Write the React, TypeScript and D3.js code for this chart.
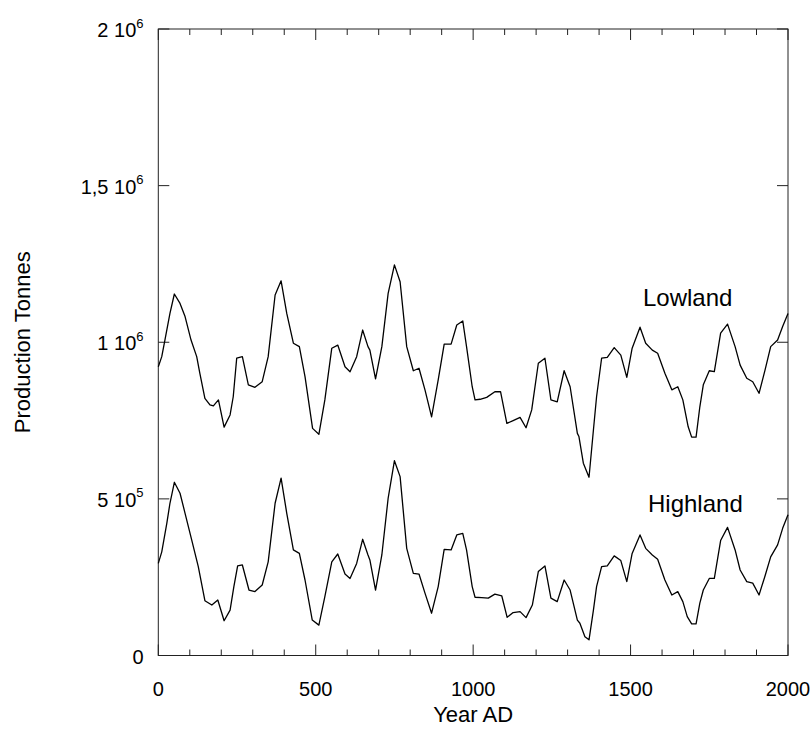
import React from "react";
import * as d3 from "d3";

// Years of the digitised vertices (Year AD)
const lowYears = [0, 11, 21, 37, 51, 69, 85, 104, 122, 132, 148, 164, 175, 191, 209, 228, 238, 249, 267, 286, 307, 330, 349, 371, 390, 408, 429, 448, 466, 490, 510, 529, 551, 570, 593, 609, 630, 649, 666, 672, 690, 710, 730, 750, 768, 789, 810, 828, 847, 868, 889, 908, 930, 948, 967, 979, 997, 1006, 1022, 1043, 1069, 1087, 1107, 1127, 1149, 1168, 1186, 1207, 1228, 1247, 1267, 1289, 1308, 1331, 1336, 1350, 1368, 1382, 1392, 1408, 1426, 1448, 1469, 1488, 1505, 1530, 1548, 1569, 1586, 1609, 1631, 1650, 1666, 1683, 1694, 1708, 1720, 1731, 1750, 1766, 1786, 1808, 1832, 1848, 1869, 1888, 1908, 1927, 1945, 1967, 1983, 2000];
// Lowland production (thousand tonnes)
const lowValues = [922, 954, 1007, 1092, 1154, 1124, 1082, 1007, 954, 901, 821, 800, 797, 816, 729, 768, 826, 949, 954, 864, 856, 874, 954, 1151, 1196, 1092, 997, 986, 890, 725, 706, 816, 981, 991, 922, 906, 954, 1039, 986, 975, 883, 986, 1156, 1247, 1193, 986, 909, 917, 848, 762, 880, 994, 994, 1055, 1068, 986, 858, 816, 818, 824, 842, 842, 741, 750, 760, 727, 784, 933, 949, 816, 810, 909, 858, 709, 699, 614, 569, 720, 826, 949, 952, 983, 959, 888, 981, 1048, 997, 975, 965, 901, 848, 858, 816, 730, 697, 697, 794, 864, 909, 906, 1029, 1058, 986, 927, 885, 874, 837, 911, 986, 1007, 1050, 1092];

const highYears = [0, 11, 27, 37, 51, 69, 85, 106, 127, 148, 170, 189, 209, 228, 240, 252, 267, 288, 307, 330, 349, 371, 390, 408, 429, 448, 466, 489, 510, 529, 551, 570, 593, 609, 630, 649, 666, 672, 690, 710, 730, 750, 768, 789, 810, 828, 847, 868, 889, 908, 930, 948, 967, 979, 997, 1006, 1027, 1048, 1069, 1091, 1108, 1127, 1149, 1168, 1188, 1207, 1228, 1247, 1267, 1289, 1308, 1331, 1339, 1355, 1368, 1382, 1392, 1408, 1426, 1448, 1469, 1488, 1505, 1530, 1548, 1569, 1586, 1609, 1631, 1650, 1666, 1680, 1694, 1708, 1720, 1731, 1750, 1766, 1786, 1808, 1832, 1848, 1869, 1888, 1908, 1927, 1945, 1967, 1983, 2000];
// Highland production (thousand tonnes)
const highValues = [294, 331, 422, 486, 553, 518, 454, 369, 284, 175, 161, 177, 111, 145, 220, 286, 289, 209, 204, 225, 299, 486, 566, 454, 337, 326, 241, 113, 97, 188, 299, 324, 260, 246, 294, 371, 321, 305, 209, 321, 502, 622, 571, 342, 262, 260, 199, 135, 220, 339, 337, 385, 390, 337, 220, 186, 185, 183, 196, 190, 122, 137, 140, 121, 161, 268, 286, 183, 172, 241, 209, 113, 103, 60, 50, 145, 220, 284, 286, 318, 303, 236, 326, 385, 342, 321, 307, 241, 193, 204, 172, 124, 101, 101, 167, 209, 246, 246, 367, 409, 337, 273, 236, 231, 193, 254, 315, 353, 406, 449];

const xTicksMajor = [0, 500, 1000, 1500, 2000];
const xTickLabels = ["0", "500", "1000", "1500", "2000"];
const yTicksMajor = [0, 500000, 1000000, 1500000, 2000000];
const yTickMantissa = ["0", "5", "1", "1,5", "2"];
const yTickExponent = ["", "5", "6", "6", "6"];

const seriesNames = ["Lowland", "Highland"];

export default function App() {
  const W = 812, H = 735;
  const x = d3.scaleLinear().domain([0, 2000]).range([158.3, 788]);
  const y = d3.scaleLinear().domain([0, 2000000]).range([655.5, 29]);
  const line = d3
    .line<[number, number]>()
    .x((d) => x(d[0]))
    .y((d) => y(d[1]));

  const low: [number, number][] = lowYears.map((yr, i) => [yr, lowValues[i] * 1000]);
  const high: [number, number][] = highYears.map((yr, i) => [yr, highValues[i] * 1000]);

  const minorX = d3.range(0, 2001, 100).filter((v) => v % 500 !== 0);
  const font = "'Liberation Sans', Arial, Helvetica, sans-serif";
  const axisColor = "#222";
  const [x0, x1] = x.range();
  const [yb, yt] = y.range();

  return (
    <svg
      width={W}
      height={H}
      style={{ position: "absolute", left: 0, top: 0, background: "#fff" }}
      fontFamily={font}
    >
      <rect x={0} y={0} width={W} height={H} fill="#fff" />
      {/* frame */}
      <rect x={x0} y={yt} width={x1 - x0} height={yb - yt} fill="none" stroke={axisColor} strokeWidth={1} />
      {/* x ticks bottom & top */}
      {xTicksMajor.map((v) => (
        <g key={"xm" + v}>
          <line x1={x(v)} x2={x(v)} y1={yb} y2={yb - 11} stroke={axisColor} />
          <line x1={x(v)} x2={x(v)} y1={yt} y2={yt + 11} stroke={axisColor} />
        </g>
      ))}
      {minorX.map((v) => (
        <g key={"xn" + v}>
          <line x1={x(v)} x2={x(v)} y1={yb} y2={yb - 6} stroke={axisColor} />
          <line x1={x(v)} x2={x(v)} y1={yt} y2={yt + 6} stroke={axisColor} />
        </g>
      ))}
      {/* y ticks left & right */}
      {yTicksMajor.map((v) => (
        <g key={"ym" + v}>
          <line x1={x0} x2={x0 + 11} y1={y(v)} y2={y(v)} stroke={axisColor} />
          <line x1={x1} x2={x1 - 11} y1={y(v)} y2={y(v)} stroke={axisColor} />
        </g>
      ))}
      {/* x tick labels */}
      {xTicksMajor.map((v, i) => (
        <text key={"xl" + v} x={x(v)} y={yb + 40} textAnchor="middle" fontSize={20} fill="#000">
          {xTickLabels[i]}
        </text>
      ))}
      {/* y tick labels */}
      {yTicksMajor.map((v, i) => (
        <text key={"yl" + v} x={143.5} y={y(v) + 8} textAnchor="end" fontSize={20} fill="#000">
          {yTickExponent[i] === "" ? (
            yTickMantissa[i]
          ) : (
            <>
              <tspan>{yTickMantissa[i] + " 10"}</tspan>
              <tspan fontSize={13} dy={-9.5}>{yTickExponent[i]}</tspan>
            </>
          )}
        </text>
      ))}
      {/* axis titles */}
      <text x={x(1000)} y={722} textAnchor="middle" fontSize={22} fill="#000">
        Year AD
      </text>
      <text
        transform={`translate(${30},${y(1000000)}) rotate(-90)`}
        textAnchor="middle"
        fontSize={22}
        fill="#000"
      >
        Production Tonnes
      </text>
      {/* series */}
      <path d={line(low) || ""} fill="none" stroke="#000" strokeWidth={1.3} strokeLinejoin="round" />
      <path d={line(high) || ""} fill="none" stroke="#000" strokeWidth={1.3} strokeLinejoin="round" />
      {/* series labels */}
      <text x={643} y={305.5} fontSize={24} fill="#000">
        {seriesNames[0]}
      </text>
      <text x={648} y={511.5} fontSize={24} fill="#000">
        {seriesNames[1]}
      </text>
    </svg>
  );
}
